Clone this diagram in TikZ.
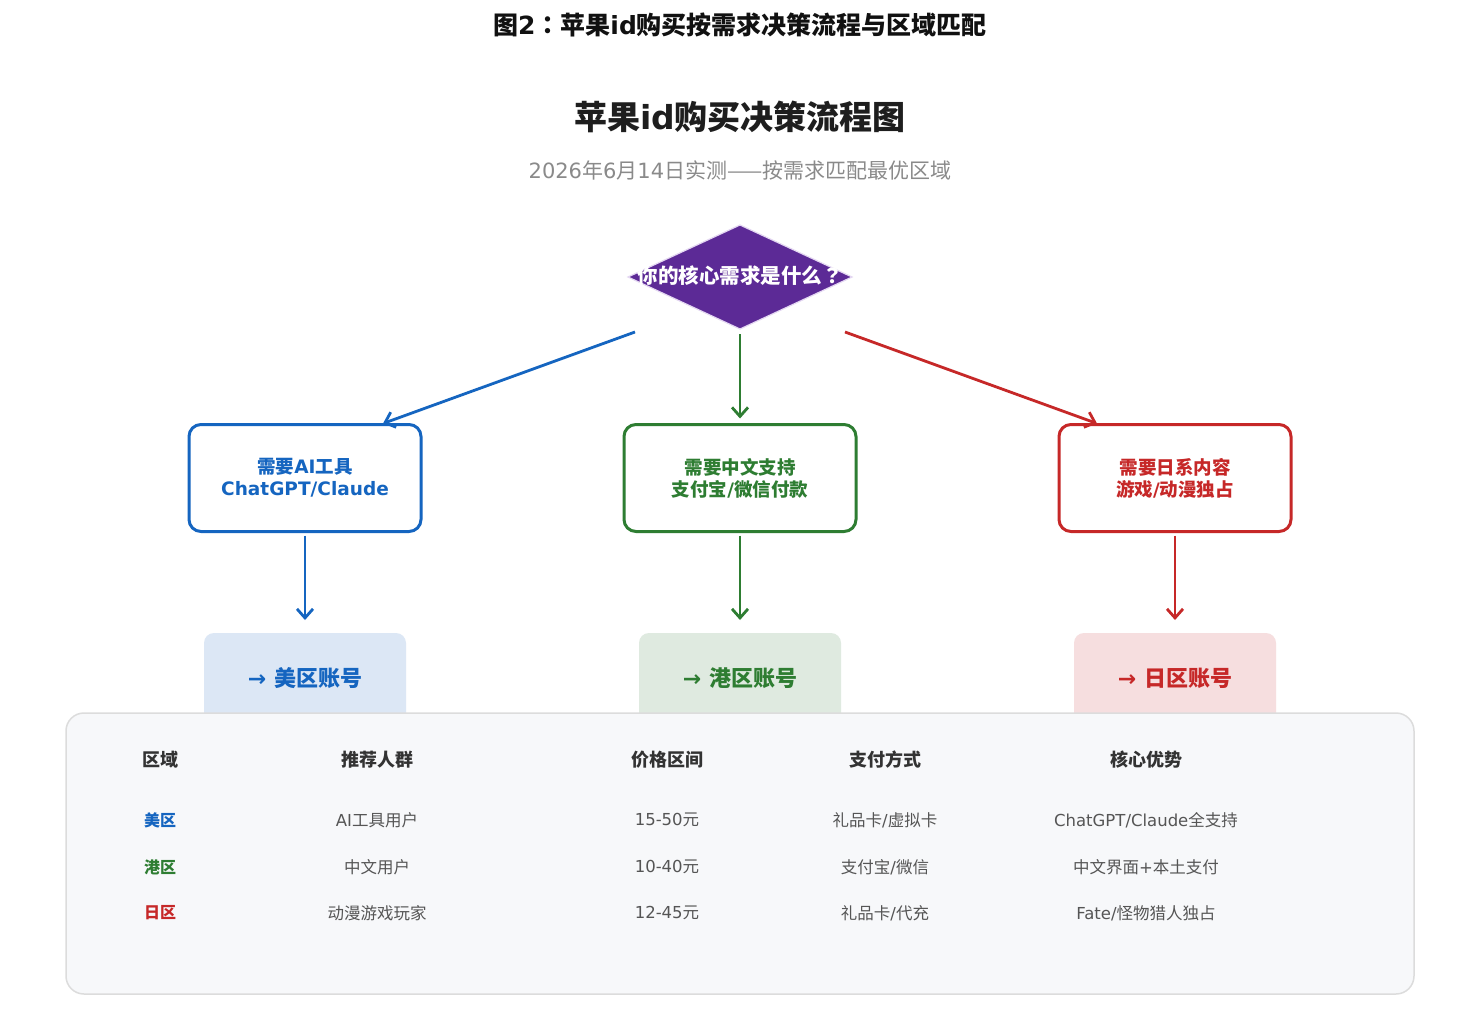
\documentclass[tikz,border=0pt]{standalone}
\usepackage{fontspec}
\setmainfont{Noto Sans CJK SC}
\newfontfamily\lat{DejaVu Sans}
\newfontfamily\tcf{Noto Sans CJK TC}
\usetikzlibrary{shapes.geometric,arrows.meta,calc}
\definecolor{cblue}{HTML}{1565C0}
\definecolor{cgreen}{HTML}{2E7D32}
\definecolor{cred}{HTML}{C62828}
\definecolor{cpurple}{HTML}{5C2A96}
\definecolor{clav}{HTML}{E4D7F2}
\definecolor{fblue}{HTML}{DCE7F5}
\definecolor{fgreen}{HTML}{DFEAE0}
\definecolor{fred}{HTML}{F6DEDF}
\definecolor{tfill}{HTML}{F7F8FA}
\definecolor{tborder}{HTML}{DCDCDC}
\definecolor{ctitle}{HTML}{111111}
\definecolor{cmain}{HTML}{1E1E1E}
\definecolor{csub}{HTML}{8A8A8A}
\definecolor{chead}{HTML}{333333}
\definecolor{ccell}{HTML}{555555}
\tikzset{
  every node/.style={inner sep=0pt, outer sep=0pt},
  arr/.style={line width=2.8pt, -{Straight Barb[length=9pt,width=16pt]}},
  qbox/.style={draw, line width=3pt, rounded corners=12pt, fill=white,
    minimum width=232pt, minimum height=107pt, align=center,
    font=\fontsize{18.5}{22}\selectfont\bfseries},
  rbox/.style={rounded corners=10pt, minimum width=202pt, minimum height=110pt},
  rtext/.style={font=\fontsize{22}{26}\selectfont\bfseries},
  hd/.style={font=\fontsize{18}{22}\selectfont\bfseries, text=chead},
  rg/.style={font=\fontsize{16}{20}\selectfont\bfseries},
  cell/.style={font=\fontsize{16.5}{20}\selectfont, text=ccell},
}
\begin{document}
\begin{tikzpicture}[x=1pt,y=-1pt]
\useasboundingbox[fill=white] (0,0) rectangle (1480,1030);

% titles
\node[font=\fontsize{25}{29}\selectfont\bfseries, text=ctitle] (ttl) at (740,25)
  {图{\lat 2}{\tcf ：}苹果{\lat id}购买按需求决策流程与区域匹配};
\node[font=\fontsize{33}{38}\selectfont\bfseries, text=cmain] (main) at (740,117)
  {苹果{\lat id}购买决策流程图};
\node[font=\fontsize{21}{25}\selectfont, text=csub] (sub) at (740,170)
  {{\lat 2026}年{\lat 6}月{\lat 14}日实测——按需求匹配最优区域};

% decision diamond
\node[diamond, draw=clav, line width=1.2pt, fill=cpurple, minimum width=224pt,
  minimum height=104pt] (dia) at (740,277) {};
\node[font=\fontsize{20.5}{24}\selectfont\bfseries, text=white] (diaT) at (740,276)
  {你的核心需求是什么{\tcf ？}};

% need boxes
\node[qbox, draw=cblue, text=cblue] (boxA) at (305,478) {需要{\lat AI}工具\\{\lat ChatGPT/Claude}};
\node[qbox, draw=cgreen, text=cgreen] (boxB) at (740,478) {需要中文支持\\支付宝{\lat /}微信付款};
\node[qbox, draw=cred, text=cred] (boxC) at (1175,478) {需要日系内容\\游戏{\lat /}动漫独占};

% arrows from diamond
\coordinate (sA) at ($(dia.center)+(-105,55)$);
\coordinate (sB) at ($(dia.center)+(0,57)$);
\coordinate (sC) at ($(dia.center)+(105,55)$);
\coordinate (eA) at ($(boxA.north)+(78,-1)$);
\coordinate (eB) at ($(boxB.north)+(0,-6)$);
\coordinate (eC) at ($(boxC.north)+(-78,-1)$);
\draw[arr, cblue] (sA) -- (eA);
\draw[arr, cgreen] (sB) -- (eB);
\draw[arr, cred] (sC) -- (eC);

% result boxes
\node[rbox, fill=fblue] (resA) at (305,688) {};
\node[rbox, fill=fgreen] (resB) at (740,688) {};
\node[rbox, fill=fred] (resC) at (1175,688) {};

\coordinate (dA1) at ($(boxA.south)+(0,4)$);
\coordinate (dB1) at ($(boxB.south)+(0,4)$);
\coordinate (dC1) at ($(boxC.south)+(0,4)$);
\coordinate (dA2) at ($(resA.north)+(0,-13)$);
\coordinate (dB2) at ($(resB.north)+(0,-13)$);
\coordinate (dC2) at ($(resC.north)+(0,-13)$);
\draw[arr, cblue] (dA1) -- (dA2);
\draw[arr, cgreen] (dB1) -- (dB2);
\draw[arr, cred] (dC1) -- (dC2);

\node[rtext, text=cblue] (resAt) at (305,678) {{\lat →\ }美区账号};
\node[rtext, text=cgreen] (resBt) at (740,678) {{\lat →\ }港区账号};
\node[rtext, text=cred] (resCt) at (1175,678) {{\lat →\ }日区账号};

% table
\node[draw=tborder, line width=1.5pt, fill=tfill, rounded corners=18pt,
  minimum width=1348pt, minimum height=281pt] (tbl) at (740,853.5) {};

\node[hd] (h1) at (160,760) {区域};
\node[hd] (h2) at (377,760) {推荐人群};
\node[hd] (h3) at (667,760) {价格区间};
\node[hd] (h4) at (885,760) {支付方式};
\node[hd] (h5) at (1146,760) {核心优势};

\node[rg, text=cblue] (r1c1) at (160,820) {美区};
\node[cell] (r1c2) at (377,820) {{\lat AI}工具用户};
\node[cell] (r1c3) at (667,820) {{\lat 15-50}元};
\node[cell] (r1c4) at (885,820) {礼品卡{\lat /}虚拟卡};
\node[cell] (r1c5) at (1146,820) {{\lat ChatGPT/Claude}全支持};

\node[rg, text=cgreen] (r2c1) at (160,867) {港区};
\node[cell] (r2c2) at (377,867) {中文用户};
\node[cell] (r2c3) at (667,867) {{\lat 10-40}元};
\node[cell] (r2c4) at (885,867) {支付宝{\lat /}微信};
\node[cell] (r2c5) at (1146,867) {中文界面{\lat +}本土支付};

\node[rg, text=cred] (r3c1) at (160,913) {日区};
\node[cell] (r3c2) at (377,913) {动漫游戏玩家};
\node[cell] (r3c3) at (667,913) {{\lat 12-45}元};
\node[cell] (r3c4) at (885,913) {礼品卡{\lat /}代充};
\node[cell] (r3c5) at (1146,913) {{\lat Fate/}怪物猎人独占};
\end{tikzpicture}
\end{document}
